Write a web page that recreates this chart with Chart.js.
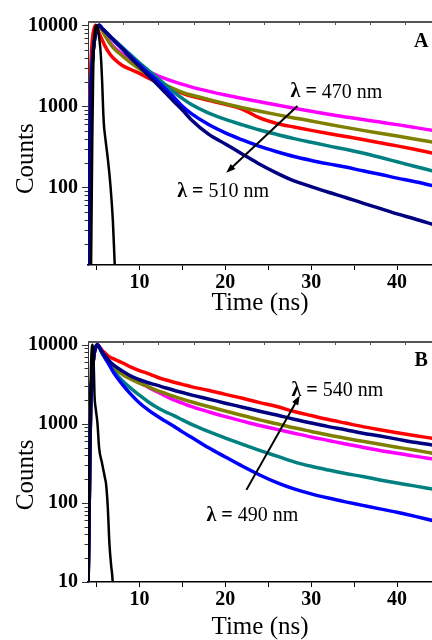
<!DOCTYPE html>
<html>
<head>
<meta charset="utf-8">
<script src="https://cdn.jsdelivr.net/npm/chart.js@4"></script>
<style>
  html, body { margin: 0; padding: 0; background: #fff; }
  canvas { display: block; }
</style>
</head>
<body>
<canvas id="chartA" width="432" height="320"></canvas>
<canvas id="chartB" width="432" height="320"></canvas>
<script>
/* ============================
   DATA
============================ */

// shared time grid, ns
const timeNs = [4.0, 4.1, 4.2, 4.3, 4.5, 4.7, 4.9, 5.1, 5.3, 5.6, 6.0, 6.5, 7.0, 8.0, 9.0,
  10, 11, 12, 13, 14, 15, 16, 18, 20, 22, 24, 26, 28, 30, 32, 34, 36, 38, 40, 42, 44.1];

// panel A (470 -> 510 nm)
const aMagenta = [8, 40, 250, 1200, 3500, 6000, 8200, 9500, 10000, 9000, 7600, 6300, 5400, 4400, 3650,
  3100, 2700, 2420, 2200, 2020, 1870, 1740, 1540, 1380, 1250, 1140, 1040, 950, 870, 800, 740, 690, 640, 595, 550, 505];
const aOlive = [8, 40, 250, 1200, 3500, 6000, 8200, 9500, 10000, 8900, 7400, 6100, 5200, 4200, 3450,
  2900, 2450, 2100, 1850, 1650, 1490, 1380, 1220, 1080, 960, 870, 790, 720, 660, 600, 550, 505, 465, 430, 395, 362];
const aRed = [10, 80, 600, 2500, 6500, 9000, 10000, 9200, 8000, 6800, 5500, 4500, 3900, 3200, 2850,
  2550, 2250, 2000, 1790, 1600, 1450, 1340, 1190, 1060, 920, 720, 615, 555, 505, 462, 425, 390, 355, 325, 295, 265];
const aTeal = [8, 40, 250, 1200, 3500, 6000, 8200, 9500, 10000, 9300, 8450, 7500, 6700, 5350, 4300,
  3450, 2800, 2280, 1850, 1500, 1250, 1060, 830, 690, 590, 510, 450, 400, 360, 325, 295, 265, 235, 207, 182, 160];
const aBlue = [8, 40, 250, 1200, 3500, 6000, 8200, 9500, 10000, 9300, 8400, 7450, 6600, 5200, 4100,
  3250, 2600, 2100, 1650, 1300, 1000, 820, 600, 470, 385, 320, 275, 240, 215, 195, 178, 160, 145, 130, 118, 105];
const aNavy = [8, 40, 250, 1200, 3500, 6000, 8200, 9500, 10000, 9300, 8400, 7400, 6500, 5100, 3950,
  3100, 2420, 1900, 1480, 1150, 900, 690, 457, 343, 257, 193, 150, 120, 102, 87, 75, 64, 55, 47, 41, 35];
const aIrfTime = [4.3, 4.4, 4.5, 4.6, 4.7, 4.85, 5.0, 5.15, 5.3, 5.45, 5.55, 5.65, 5.75, 5.85, 6.0, 6.3, 6.6, 6.9, 7.1, 7.3];
const aIrf = [3, 30, 400, 2500, 6000, 9300, 10000, 9000, 7000, 5000, 3400, 2000, 1000, 600, 420, 230, 110, 38, 12, 4];

// panel B (490 -> 540 nm)
const bRed = [8, 40, 300, 1500, 4500, 7500, 9300, 10000, 9500, 8600, 7800, 7000, 6600, 5900, 5200,
  4700, 4300, 3900, 3600, 3350, 3150, 2950, 2650, 2350, 2100, 1850, 1650, 1430, 1270, 1130, 1020, 920, 840, 770, 710, 655];
const bNavy = [8, 40, 300, 1500, 4500, 7500, 9300, 10000, 9400, 8300, 7200, 6200, 5500, 4650, 4000,
  3600, 3300, 3080, 2850, 2650, 2480, 2320, 2060, 1820, 1620, 1440, 1290, 1140, 1020, 920, 840, 760, 700, 640, 585, 540];
const bOlive = [8, 40, 300, 1500, 4500, 7500, 9300, 10000, 9300, 8000, 6800, 5800, 5000, 4200, 3650,
  3250, 2950, 2650, 2420, 2220, 2050, 1900, 1650, 1450, 1270, 1120, 1000, 890, 800, 720, 655, 600, 550, 505, 465, 425];
const bMagenta = [8, 40, 300, 1500, 4500, 7500, 9300, 10000, 9400, 8200, 7100, 6100, 5300, 4400, 3800,
  3300, 2900, 2550, 2250, 2000, 1820, 1660, 1420, 1230, 1080, 950, 850, 760, 680, 615, 555, 505, 460, 425, 390, 360];
const bTeal = [8, 40, 300, 1500, 4500, 7500, 9300, 10000, 9300, 8000, 6700, 5500, 4600, 3500, 2800,
  2300, 1900, 1620, 1420, 1270, 1120, 990, 800, 660, 550, 460, 390, 330, 290, 260, 235, 215, 195, 178, 164, 150];
const bBlue = [8, 40, 300, 1500, 4500, 7500, 9300, 10000, 9300, 8100, 6800, 5500, 4400, 3150, 2350,
  1830, 1500, 1260, 1080, 930, 790, 680, 500, 380, 290, 225, 180, 150, 130, 115, 103, 93, 84, 76, 68, 60];
const bIrfTime = [4.0, 4.1, 4.2, 4.3, 4.4, 4.55, 4.65, 4.75, 4.9, 5.1, 5.3, 5.6, 6.0, 6.1, 6.3, 6.5, 6.7, 6.85, 7.0];
const bIrf = [3, 30, 400, 3000, 7500, 10000, 7000, 2400, 1550, 1020, 490, 330, 200, 175, 90, 30, 16, 11, 4];

// axis ranges / ticks
const xRange = [4, 44.07];
const yRangeA = [11, 11000];
const yRangeB = [10, 10800];
const topTickCount = 9.76;   // top frame ticks (unlabelled)

// annotations, in data coordinates
const notesA = {
  upper: { text: '470 nm', at: [27.6, 1490] },
  lower: { text: '510 nm', at: [14.4, 88] },
  arrow: { from: [28.4, 1010], to: [20.1, 151] },
  letter: { text: 'A', at: [42.8, 6250] }
};
const notesB = {
  upper: { text: '540 nm', at: [27.7, 2640] },
  lower: { text: '490 nm', at: [17.8, 68] },
  arrow: { from: [22.45, 146], to: [28.67, 2275] },
  letter: { text: 'B', at: [42.8, 6270] }
};
const countsLabelAt = 226;

/* ============================
   HELPERS
============================ */

const SERIF = '"Liberation Serif", "Times New Roman", serif';

function pts(xs, ys){
  return xs.map((t, i) => ({ x: t, y: ys[i] }));
}

function line(xs, ys, color, width){
  return {
    data: pts(xs, ys),
    borderColor: color,
    borderWidth: width || 3.5,
    pointRadius: 0,
    fill: false,
    cubicInterpolationMode: 'monotone',
    xAxisID: 'x',
    yAxisID: 'y'
  };
}

function logTicks(min, max){
  const out = [];
  for(let e = Math.floor(Math.log10(min)); e <= Math.ceil(Math.log10(max)); e++){
    for(let k = 1; k < 10; k++){
      const v = k * Math.pow(10, e);
      if(v >= min && v <= max) out.push({ v, major: k === 1 });
    }
  }
  return out;
}

/* frame bits + text notes */
const panelDecor = {
  id: 'panelDecor',
  afterDraw(chart, args, opts){
    const { ctx, chartArea: area, scales } = chart;
    const x = scales.x, y = scales.y, top = scales.x2;
    const notes = opts.notes;
    ctx.save();

    // top frame line with small inward ticks
    ctx.strokeStyle = '#555';
    ctx.lineWidth = 2;
    ctx.beginPath();
    ctx.moveTo(area.left, area.top);
    ctx.lineTo(area.right, area.top);
    ctx.stroke();
    ctx.lineWidth = 1;
    for(let i = 1; i <= Math.floor(topTickCount); i++){
      const px = Math.round(top.getPixelForValue(i)) + 0.5;
      ctx.beginPath();
      ctx.moveTo(px, area.top);
      ctx.lineTo(px, area.top + 3);
      ctx.stroke();
    }

    // left axis ticks (major / minor)
    ctx.strokeStyle = '#333';
    logTicks(y.min, y.max).forEach(t => {
      const py = Math.round(y.getPixelForValue(t.v)) + 0.5;
      ctx.beginPath();
      ctx.moveTo(area.left, py);
      ctx.lineTo(area.left - (t.major ? 6 : 3.5), py);
      ctx.stroke();
    });

    // y title
    ctx.fillStyle = '#000';
    ctx.save();
    ctx.translate(26, y.getPixelForValue(countsLabelAt));
    ctx.rotate(-Math.PI / 2);
    ctx.font = '25px ' + SERIF;
    ctx.textAlign = 'center';
    ctx.textBaseline = 'middle';
    ctx.fillText('Counts', 0, 0);
    ctx.restore();

    // lambda labels
    [notes.upper, notes.lower].forEach(n => {
      const px = x.getPixelForValue(n.at[0]);
      const py = y.getPixelForValue(n.at[1]);
      ctx.textAlign = 'left';
      ctx.textBaseline = 'middle';
      ctx.font = 'bold 20px ' + SERIF;
      ctx.fillText('λ =', px, py);
      const w = ctx.measureText('λ = ').width;
      ctx.font = '20px ' + SERIF;
      ctx.fillText(n.text, px + w, py);
    });

    // arrow
    const x0 = x.getPixelForValue(notes.arrow.from[0]);
    const y0 = y.getPixelForValue(notes.arrow.from[1]);
    const x1 = x.getPixelForValue(notes.arrow.to[0]);
    const y1 = y.getPixelForValue(notes.arrow.to[1]);
    const ang = Math.atan2(y1 - y0, x1 - x0);
    const head = 10;
    ctx.strokeStyle = '#000';
    ctx.lineWidth = 2;
    ctx.beginPath();
    ctx.moveTo(x0, y0);
    ctx.lineTo(x1 - Math.cos(ang) * head * 0.7, y1 - Math.sin(ang) * head * 0.7);
    ctx.stroke();
    ctx.beginPath();
    ctx.moveTo(x1, y1);
    ctx.lineTo(x1 - head * Math.cos(ang - 0.35), y1 - head * Math.sin(ang - 0.35));
    ctx.lineTo(x1 - head * Math.cos(ang + 0.35), y1 - head * Math.sin(ang + 0.35));
    ctx.closePath();
    ctx.fill();

    // panel letter
    ctx.font = 'bold 20px ' + SERIF;
    ctx.textAlign = 'center';
    ctx.textBaseline = 'middle';
    ctx.fillText(notes.letter.text, x.getPixelForValue(notes.letter.at[0]), y.getPixelForValue(notes.letter.at[1]));

    ctx.restore();
  }
};

/* ============================
   PANEL BUILDER
============================ */

function renderPanel(id, datasets, yRange, cfg){
  const canvas = document.getElementById(id);
  const tickFont = { family: SERIF, size: 20, weight: 'bold' };

  return new Chart(canvas, {
    type: 'line',
    data: { datasets },
    plugins: [panelDecor],
    options: {
      responsive: false,
      animation: false,
      devicePixelRatio: 1,
      events: [],
      layout: { padding: { top: cfg.padTop, left: 0, right: 0, bottom: 0 } },
      scales: {
        x: {
          type: 'linear',
          position: 'bottom',
          min: xRange[0],
          max: xRange[1],
          grid: { drawOnChartArea: false, drawTicks: true, tickLength: 5, tickColor: '#000', tickWidth: 1 },
          border: { display: true, color: '#000', width: 1.5 },
          ticks: {
            stepSize: 5,
            includeBounds: false,
            autoSkip: false,
            maxRotation: 0,
            padding: 1,
            color: '#000',
            font: tickFont,
            callback: v => (v % 10 === 0 ? String(v) : '')
          },
          title: {
            display: true,
            text: 'Time (ns)',
            color: '#000',
            font: { family: SERIF, size: 25, lineHeight: 1 },
            padding: { top: 0, bottom: cfg.titlePad }
          },
          afterFit(scale){ scale.height = cfg.xHeight; }
        },
        x2: {
          type: 'linear',
          position: 'top',
          display: false,
          min: 0,
          max: topTickCount
        },
        y: {
          type: 'logarithmic',
          position: 'left',
          min: yRange[0],
          max: yRange[1],
          grid: { drawOnChartArea: false, drawTicks: false },
          border: { display: true, color: '#333', width: 1 },
          ticks: {
            autoSkip: false,
            padding: 10,
            color: '#000',
            font: tickFont,
            callback: v => {
              const e = Math.log10(v);
              return Math.abs(e - Math.round(e)) < 1e-9 ? String(v) : '';
            }
          },
          afterFit(scale){ scale.width = 88; }
        }
      },
      plugins: {
        legend: { display: false },
        tooltip: { enabled: false },
        panelDecor: { notes: cfg.notes }
      }
    }
  });
}

// first dataset ends up on top
renderPanel('chartA', [
  line(aIrfTime, aIrf, '#000000', 2.5),
  line(timeNs, aNavy, '#000080'),
  line(timeNs, aBlue, '#0000FF'),
  line(timeNs, aTeal, '#008080'),
  line(timeNs, aOlive, '#808000'),
  line(timeNs, aRed, '#FF0000'),
  line(timeNs, aMagenta, '#FF00FF')
], yRangeA, { padTop: 19, xHeight: 55, titlePad: 4.5, notes: notesA });

renderPanel('chartB', [
  line(bIrfTime, bIrf, '#000000', 2.5),
  line(timeNs, bNavy, '#000080'),
  line(timeNs, bBlue, '#0000FF'),
  line(timeNs, bTeal, '#008080'),
  line(timeNs, bOlive, '#808000'),
  line(timeNs, bMagenta, '#FF00FF'),
  line(timeNs, bRed, '#FF0000')
], yRangeB, { padTop: 12, xHeight: 58, titlePad: 0.5, notes: notesB });
</script>
</body>
</html>
